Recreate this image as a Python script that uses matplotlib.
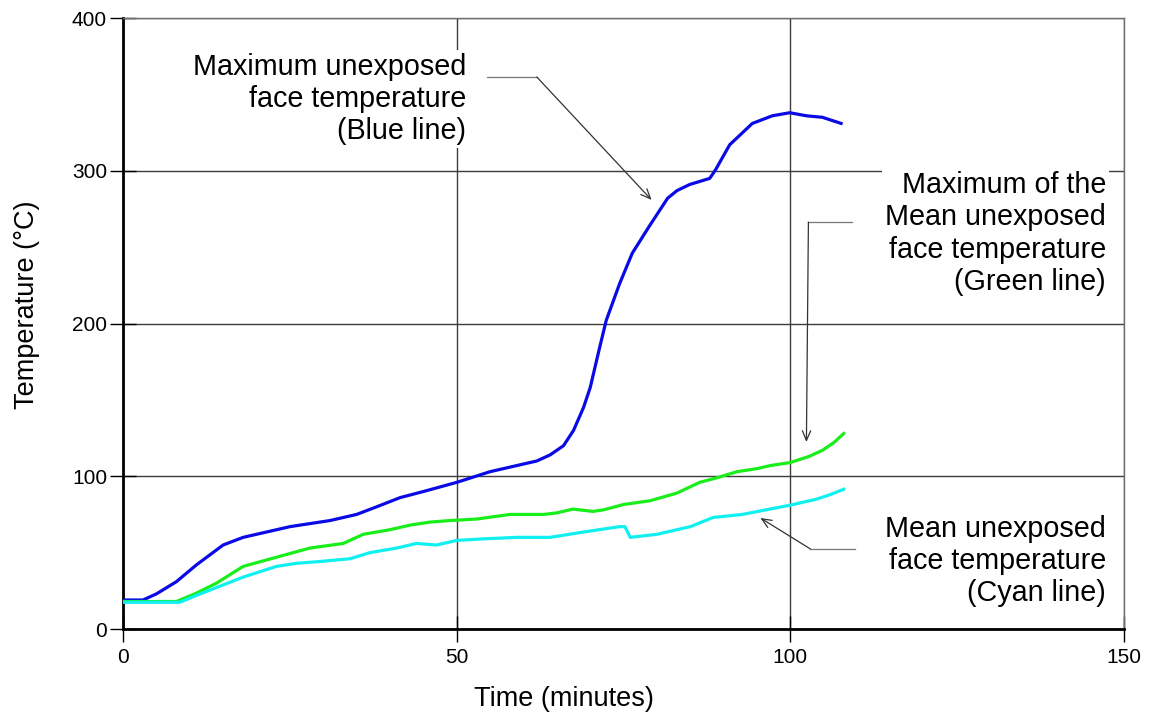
import matplotlib
matplotlib.use("Agg")
import matplotlib.pyplot as plt

plt.rcParams['font.family'] = ['Liberation Sans', 'DejaVu Sans']

# values
t_blue = [0, 3, 5, 8, 11, 15, 18, 21, 25, 28, 31, 35, 38, 41.5, 45, 50, 55, 59, 62,
          64, 66, 67.5, 69, 70, 71.4, 72.4, 74.4, 76.3, 78.9, 81.6, 83, 84.9, 87.9,
          88.7, 90.9, 94.3, 97.3, 99.9, 102.4, 104.8, 107.6]
T_blue = [19, 19, 23, 31, 42, 55, 60, 63, 67, 69, 71, 75, 80, 86, 90, 96, 103, 107, 110,
          114, 120, 130, 145, 158, 184, 202, 226, 246, 264, 282, 287, 291, 295,
          300, 317, 331, 336, 338, 336, 335, 331]

t_green = [0, 8, 11, 14, 18, 23, 28, 33, 36, 40, 43, 46, 49, 53, 58, 63, 65, 67.4,
           70.4, 72, 75, 79, 83, 86.4, 89, 92, 95, 97, 100, 102.8, 104.8, 106.5, 108]
T_green = [18, 18, 23.5, 30, 41, 47, 53, 56, 62, 65, 68, 70, 71, 72, 75, 75, 76, 78.5,
           77, 78, 81.5, 84, 89, 96, 99, 103, 105, 107, 109, 113, 117, 122, 128]

t_cyan = [0, 8.5, 11, 14.5, 18, 23, 26, 29, 34, 37, 41, 44, 47, 50, 54, 59, 64, 69,
          74.4, 75.2, 76, 80, 85, 88.4, 92.8, 96.9, 99.9, 103.9, 106, 108]
T_cyan = [17.5, 17.5, 22, 28, 34, 41, 43, 44, 46, 50, 53, 56, 55, 58, 59, 60, 60, 63.5,
          67, 67, 60, 62, 67, 73, 75, 78.5, 81, 85, 88, 91.5]

x_ticks = [0, 50, 100, 150]
y_ticks = [0, 100, 200, 300, 400]

fig = plt.figure(figsize=(11.51, 7.27), dpi=100)
ax = fig.add_axes([0.1069, 0.1348, 0.8697, 0.8404])

ax.set_xlim(0, 150)
ax.set_ylim(0, 400)
ax.set_xticks(x_ticks)
ax.set_yticks(y_ticks)
ax.grid(True, color='#3c3c3c', linewidth=1.0, zorder=0)
ax.set_axisbelow(True)

ax.plot(t_blue, T_blue, color='#0a0ae6', linewidth=2.3, zorder=3)
ax.plot(t_green, T_green, color='#1aee1a', linewidth=2.3, zorder=3)
ax.plot(t_cyan, T_cyan, color='#10f0f0', linewidth=2.3, zorder=3)

for s in ['top', 'right']:
    ax.spines[s].set_linewidth(1.0)
    ax.spines[s].set_color('#707070')
for s in ['left', 'bottom']:
    ax.spines[s].set_linewidth(2.0)
    ax.spines[s].set_color('black')

ax.tick_params(direction='inout', length=19, width=1.0, labelsize=15, pad=2)
ax.tick_params(axis='x', pad=4)

ax.set_xlabel('Time (minutes)', fontsize=19.5)
ax.set_ylabel('Temperature (°C)', fontsize=19.5)
ax.xaxis.set_label_coords(0.44, -0.094)
ax.yaxis.set_label_coords(-0.083, 0.53)

box = dict(facecolor='white', edgecolor='none', pad=2)
ax.text(51.4, 347, 'Maximum unexposed\nface temperature\n(Blue line)', ha='right',
        va='center', fontsize=20.7, linespacing=1.2, bbox=box, zorder=4)
ax.text(147.3, 259, 'Maximum of the\nMean unexposed\nface temperature\n(Green line)',
        ha='right', va='center', fontsize=20.7, linespacing=1.2, bbox=box, zorder=4)
ax.text(147.3, 44.5, 'Mean unexposed\nface temperature\n(Cyan line)', ha='right',
        va='center', fontsize=20.7, linespacing=1.2, bbox=box, zorder=4)

# connectors: a plain segment, then the arrow
arr = dict(arrowstyle='->,head_length=0.7,head_width=0.3', color='#333333', lw=0.9,
           shrinkA=0, shrinkB=0)
ax.plot([54.5, 62.0], [361.4, 361.4], color='#777777', lw=0.9, zorder=4)
ax.annotate('', xy=(79.2, 280.9), xytext=(62.0, 361.4), arrowprops=arr, zorder=4)
ax.plot([109.2, 102.7], [266.4, 266.4], color='#777777', lw=0.9, zorder=4)
ax.annotate('', xy=(102.4, 122.4), xytext=(102.7, 266.4), arrowprops=arr, zorder=4)
ax.plot([109.7, 103.0], [52.4, 52.4], color='#777777', lw=0.9, zorder=4)
ax.annotate('', xy=(95.5, 72.7), xytext=(103.0, 52.4), arrowprops=arr, zorder=4)

fig.savefig('out.png', dpi=100)
